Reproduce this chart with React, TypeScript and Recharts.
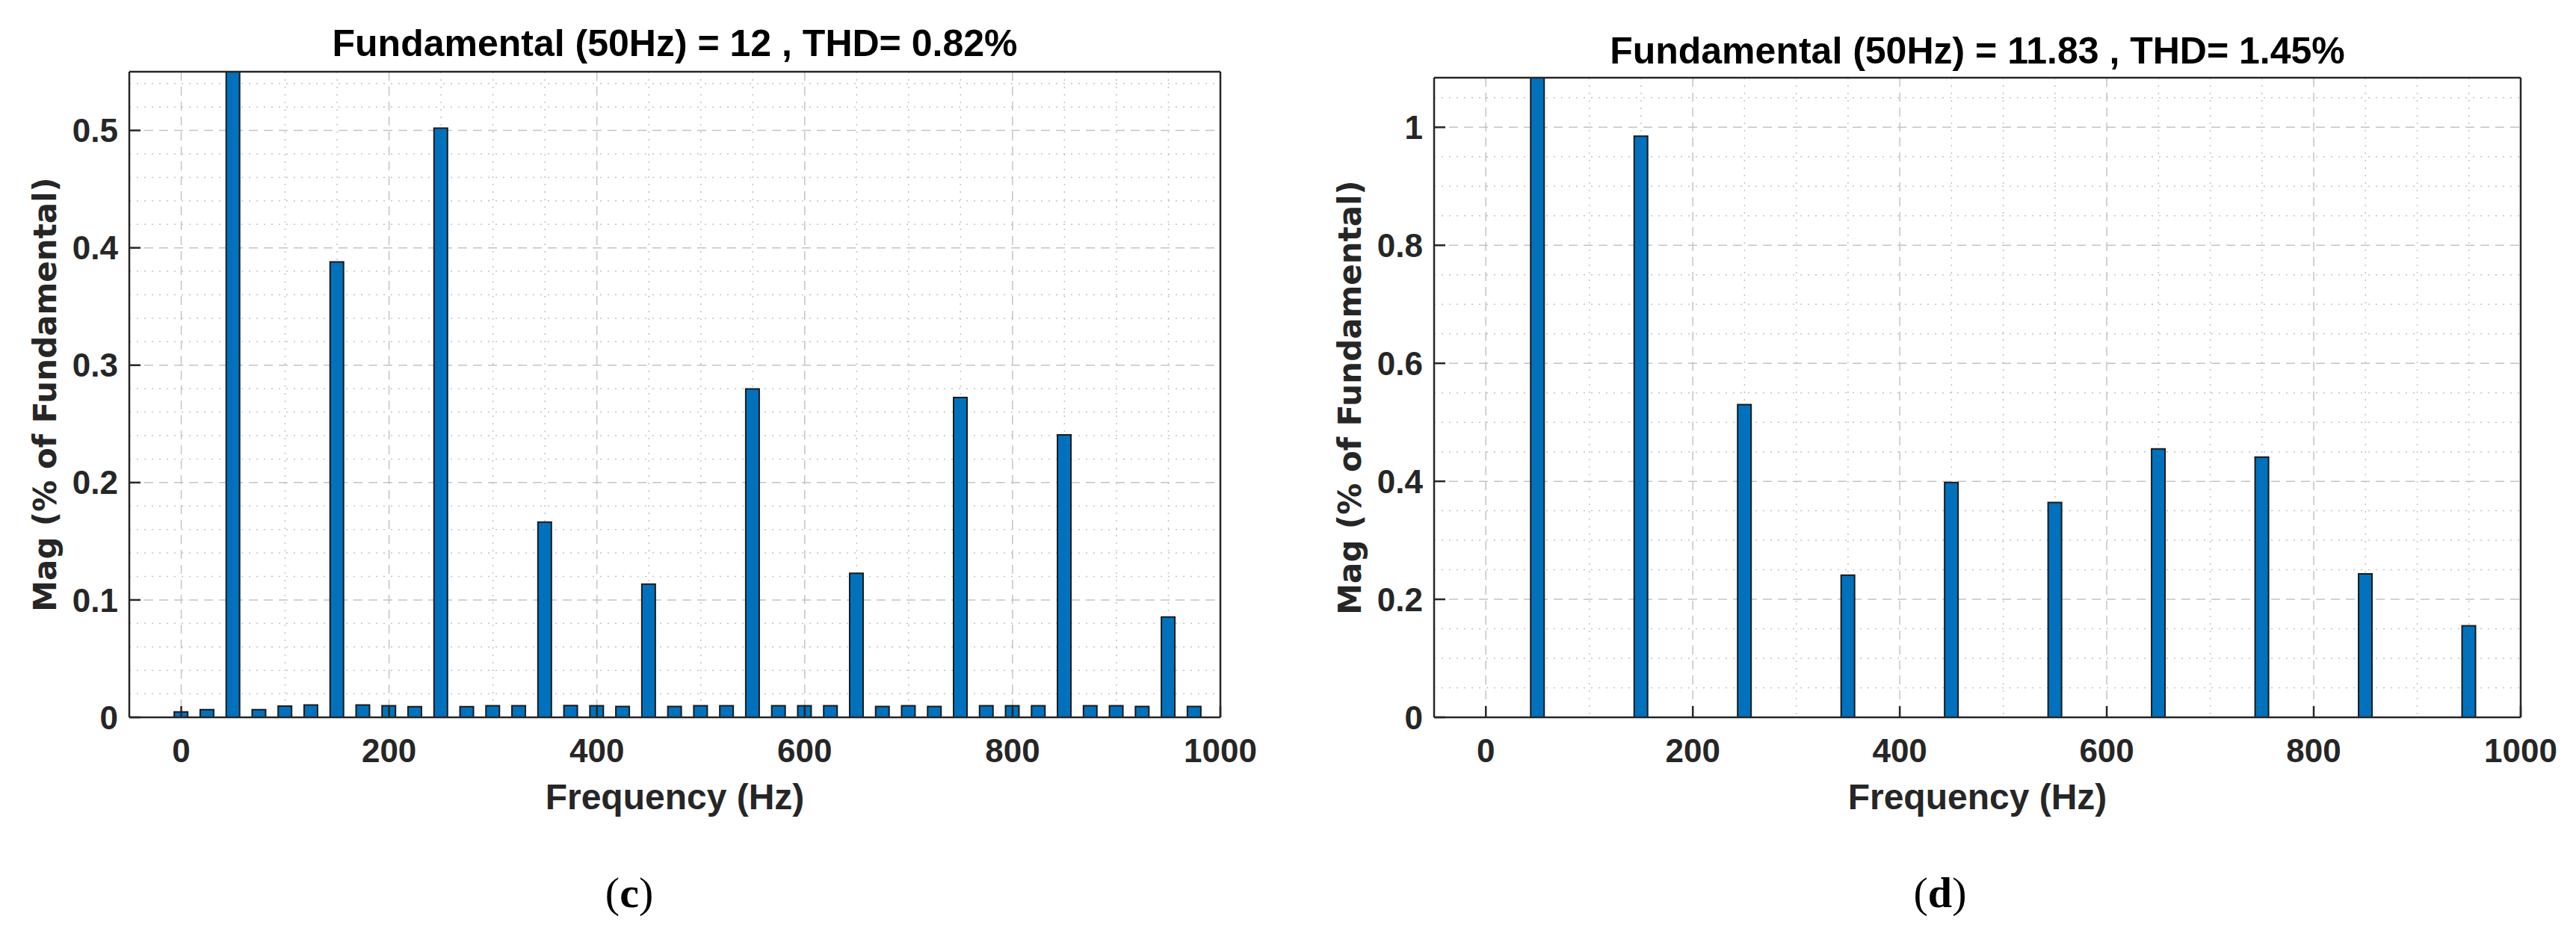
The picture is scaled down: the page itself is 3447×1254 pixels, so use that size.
import React from "react";
import { BarChart, Bar, XAxis, YAxis, CartesianGrid } from "recharts";

// panel (c): harmonic spectrum, bins every 25 Hz
const freqC = [
  0, 25, 50, 75, 100, 125, 150, 175, 200, 225, 250, 275, 300, 325, 350, 375, 400, 425, 450, 475,
  500, 525, 550, 575, 600, 625, 650, 675, 700, 725, 750, 775, 800, 825, 850, 875, 900, 925, 950, 975,
];
const magC = [
  0.0046, 0.0066, 100, 0.0066, 0.0095, 0.0105, 0.388, 0.0105, 0.0098, 0.009, 0.502, 0.009, 0.0098,
  0.0098, 0.1663, 0.01, 0.0098, 0.0093, 0.1134, 0.0093, 0.0098, 0.0098, 0.2797, 0.0098, 0.0098,
  0.0098, 0.1227, 0.0093, 0.0098, 0.0093, 0.2724, 0.0098, 0.0098, 0.0098, 0.2406, 0.0098, 0.0098,
  0.0093, 0.0855, 0.0093,
];

// panel (d): odd harmonics only
const freqD = [50, 150, 250, 350, 450, 550, 650, 750, 850, 950];
const magD = [100, 0.985, 0.53, 0.241, 0.398, 0.364, 0.455, 0.441, 0.243, 0.155];

const xTicks = [0, 200, 400, 600, 800, 1000];
const yTicksC = [0, 0.1, 0.2, 0.3, 0.4, 0.5];
const yTicksD = [0, 0.2, 0.4, 0.6, 0.8, 1];

const xMajorGrid = [0, 200, 400, 600, 800];
const xMinorGrid = [50, 100, 150, 250, 300, 350, 450, 500, 550, 650, 700, 750, 850, 900, 950];
const yMajorGridC = [0.1, 0.2, 0.3, 0.4, 0.5];
const yMinorGridC = [
  0.02, 0.04, 0.06, 0.08, 0.12, 0.14, 0.16, 0.18, 0.22, 0.24, 0.26, 0.28, 0.32, 0.34, 0.36, 0.38,
  0.42, 0.44, 0.46, 0.48, 0.52, 0.54,
];
const yMajorGridD = [0.2, 0.4, 0.6, 0.8, 1];
const yMinorGridD = [0.05, 0.1, 0.15, 0.25, 0.3, 0.35, 0.45, 0.5, 0.55, 0.65, 0.7, 0.75, 0.85, 0.9, 0.95, 1.05];

const BAR_FILL = "#0072BD";
const AXIS = "#262626";
const SANS = "'Liberation Sans', Arial, sans-serif";

const tickStyle = { fill: AXIS, fontSize: 44, fontWeight: 700, fontFamily: SANS };
const axisLine = { stroke: AXIS, strokeWidth: 2.5 };
const tickLine = { stroke: AXIS, strokeWidth: 2.5 };

interface PanelProps {
  freq: number[];
  mag: number[];
  yMax: number;
  yTicks: number[];
  yMajor: number[];
  yMinor: number[];
  title: string;
  caption: string;
  left: number;
  width: number;
  plotLeft: number;
  plotRight: number;
  plotTop: number;
  titleX: number;
  titleY: number;
  captionX: number;
  labelX: number;
}

function Panel(p: PanelProps) {
  const data = p.freq.map((f, i) => ({ f, v: p.mag[i] }));
  const height = 1130;
  const yAxisW = p.plotLeft - 20;
  const margin = { top: p.plotTop - 2, right: p.width - p.plotRight - 2, bottom: 30, left: 20 };

  const yLabel = (props: any) => {
    const vb = props.viewBox;
    const x = vb.x + p.labelX;
    const y = vb.y + vb.height / 2;
    return (
      <text
        x={x}
        y={y}
        transform={`rotate(-90, ${x}, ${y})`}
        textAnchor="middle"
        dominantBaseline="central"
        fill={AXIS}
        fontSize={42}
        fontWeight={700}
        fontFamily="'DejaVu Sans', Verdana, sans-serif"
      >
        Mag (% of Fundamental)
      </text>
    );
  };

  const xLabel = (props: any) => {
    const vb = props.viewBox;
    return (
      <text
        x={vb.x + vb.width / 2}
        y={vb.y + 123}
        textAnchor="middle"
        fill={AXIS}
        fontSize={48}
        fontWeight={700}
        fontFamily={SANS}
      >
        Frequency (Hz)
      </text>
    );
  };

  return (
    <div style={{ position: "absolute", left: p.left, top: 0, width: p.width, height: 1254 }}>
      <div
        style={{
          position: "absolute",
          left: p.titleX - p.left - 700,
          width: 1400,
          top: p.titleY - 46,
          textAlign: "center",
          fontFamily: SANS,
          fontWeight: 700,
          fontSize: 50,
          lineHeight: "56px",
          color: "#000",
          whiteSpace: "nowrap",
        }}
      >
        {p.title}
      </div>
      <BarChart width={p.width} height={height} data={data} margin={margin}>
        <CartesianGrid
          horizontalValues={p.yMinor}
          verticalValues={xMinorGrid}
          stroke="#c4c4c4"
          strokeWidth={1.5}
          strokeDasharray="2 8"
        />
        <CartesianGrid
          horizontalValues={p.yMajor}
          verticalValues={xMajorGrid}
          stroke="#c4c4c4"
          strokeWidth={1.5}
          strokeDasharray="12 8"
        />
        <XAxis
          dataKey="f"
          type="number"
          domain={[-50, 1000]}
          allowDataOverflow
          ticks={xTicks}
          interval={0}
          height={140}
          tick={tickStyle}
          tickSize={-15}
          tickMargin={44}
          axisLine={axisLine}
          tickLine={tickLine}
          label={{ content: xLabel }}
        />
        <XAxis
          xAxisId="top"
          orientation="top"
          type="number"
          domain={[-50, 1000]}
          allowDataOverflow
          ticks={xTicks}
          interval={0}
          height={2}
          tick={false}
          tickSize={-15}
          axisLine={axisLine}
          tickLine={tickLine}
        />
        <YAxis
          type="number"
          domain={[0, p.yMax]}
          allowDataOverflow
          ticks={p.yTicks}
          interval={0}
          width={yAxisW}
          tick={tickStyle}
          tickSize={-15}
          tickMargin={30}
          axisLine={axisLine}
          tickLine={tickLine}
          label={{ content: yLabel }}
        />
        <YAxis
          yAxisId="right"
          orientation="right"
          type="number"
          domain={[0, p.yMax]}
          allowDataOverflow
          ticks={p.yTicks}
          interval={0}
          width={2}
          tick={false}
          tickSize={-15}
          axisLine={axisLine}
          tickLine={tickLine}
        />
        <Bar
          dataKey="v"
          barSize={18}
          fill={BAR_FILL}
          stroke="#1a1a1a"
          strokeWidth={2}
          isAnimationActive={false}
        />
      </BarChart>
      <div
        style={{
          position: "absolute",
          left: p.captionX - p.left - 100,
          width: 200,
          top: 1160,
          textAlign: "center",
          fontFamily: "'Liberation Serif', 'Times New Roman', serif",
          fontSize: 58,
          lineHeight: "70px",
          color: "#000",
        }}
      >
        (<b>{p.caption}</b>)
      </div>
    </div>
  );
}

export default function App() {
  return (
    <div
      style={{
        position: "absolute",
        left: 0,
        top: 0,
        width: 3447,
        height: 1254,
        background: "#fff",
        overflow: "hidden",
      }}
    >
      <Panel
        freq={freqC}
        mag={magC}
        yMax={0.55}
        yTicks={yTicksC}
        yMajor={yMajorGridC}
        yMinor={yMinorGridC}
        title="Fundamental (50Hz) = 12 , THD= 0.82%"
        caption="c"
        left={0}
        width={1720}
        plotLeft={173}
        plotRight={1633}
        plotTop={96}
        titleX={903}
        titleY={76}
        captionX={842}
        labelX={40}
      />
      <Panel
        freq={freqD}
        mag={magD}
        yMax={1.084}
        yTicks={yTicksD}
        yMajor={yMajorGridD}
        yMinor={yMinorGridD}
        title="Fundamental (50Hz) = 11.83 , THD= 1.45%"
        caption="d"
        left={1720}
        width={1727}
        plotLeft={199}
        plotRight={1653}
        plotTop={104}
        titleX={2646}
        titleY={86}
        captionX={2596}
        labelX={66}
      />
    </div>
  );
}
